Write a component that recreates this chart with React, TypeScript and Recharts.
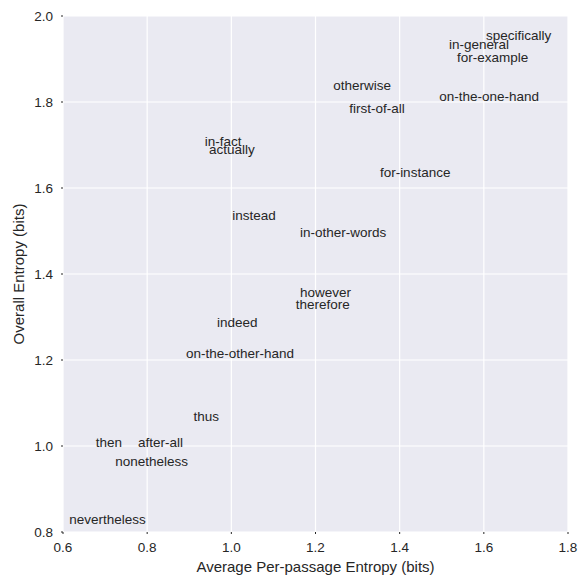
import { ScatterChart, Scatter, XAxis, YAxis, CartesianGrid } from "recharts";

// connective phrases, placed by their text's left baseline
const words = [
  "specifically", "in-general", "for-example", "otherwise", "on-the-one-hand",
  "first-of-all", "for-instance", "in-other-words", "in-fact", "actually",
  "instead", "however", "therefore", "indeed", "on-the-other-hand",
  "thus", "then", "after-all", "nonetheless", "nevertheless",
];
const passageEntropy = [
  1.605, 1.517, 1.536, 1.242, 1.494,
  1.28, 1.353, 1.163, 0.937, 0.947,
  1.002, 1.163, 1.153, 0.966, 0.892,
  0.91, 0.678, 0.778, 0.724, 0.615,
];
const overallEntropy = [
  1.944, 1.923, 1.893, 1.828, 1.803,
  1.775, 1.626, 1.487, 1.698, 1.679,
  1.526, 1.347, 1.318, 1.277, 1.204,
  1.058, 0.998, 0.998, 0.954, 0.818,
];
const xTicks = [0.6, 0.8, 1.0, 1.2, 1.4, 1.6, 1.8];
const yTicks = [0.8, 1.0, 1.2, 1.4, 1.6, 1.8, 2.0];

const data = words.map((w, i) => ({ word: w, x: passageEntropy[i], y: overallEntropy[i] }));

const FONT = '"Liberation Sans", Arial, sans-serif';
const INK = "#262626";

function WordLabel(props: any) {
  const { cx, cy, payload } = props;
  return (
    <text x={cx} y={cy} textAnchor="start" fontSize={13.5} fontFamily={FONT} fill={INK}>
      {payload.word}
    </text>
  );
}

export default function App() {
  return (
    <div style={{ position: "absolute", left: 0, top: 0, background: "#fff" }}>
      <ScatterChart width={579} height={575} margin={{ top: 16, right: 11, bottom: 0, left: 0 }}>
        <CartesianGrid fill="#EAEAF2" stroke="#ffffff" strokeWidth={1.2} horizontalValues={yTicks} verticalValues={xTicks} />
        <XAxis
          type="number" dataKey="x" domain={[0.6, 1.8]} ticks={xTicks} height={43}
          axisLine={false} tickSize={2} tickMargin={8} tickLine={{ stroke: INK }}
          tickFormatter={(v: number) => v.toFixed(1)}
          tick={{ fontSize: 13.5, fontFamily: FONT, fill: INK }}
          label={{ value: "Average Per-passage Entropy (bits)", position: "insideBottom", offset: 3, fontSize: 15, fontFamily: FONT, fill: INK }}
        />
        <YAxis
          type="number" dataKey="y" domain={[0.8, 2.0]} ticks={yTicks} width={63}
          axisLine={false} tickSize={2} tickMargin={8} tickLine={{ stroke: INK }}
          tickFormatter={(v: number) => v.toFixed(1)}
          tick={{ fontSize: 13.5, fontFamily: FONT, fill: INK }}
          label={{ value: "Overall Entropy (bits)", angle: -90, position: "insideLeft", offset: 19, style: { textAnchor: "middle" }, fontSize: 15, fontFamily: FONT, fill: INK }}
        />
        <Scatter data={data} shape={<WordLabel />} isAnimationActive={false} />
      </ScatterChart>
    </div>
  );
}
